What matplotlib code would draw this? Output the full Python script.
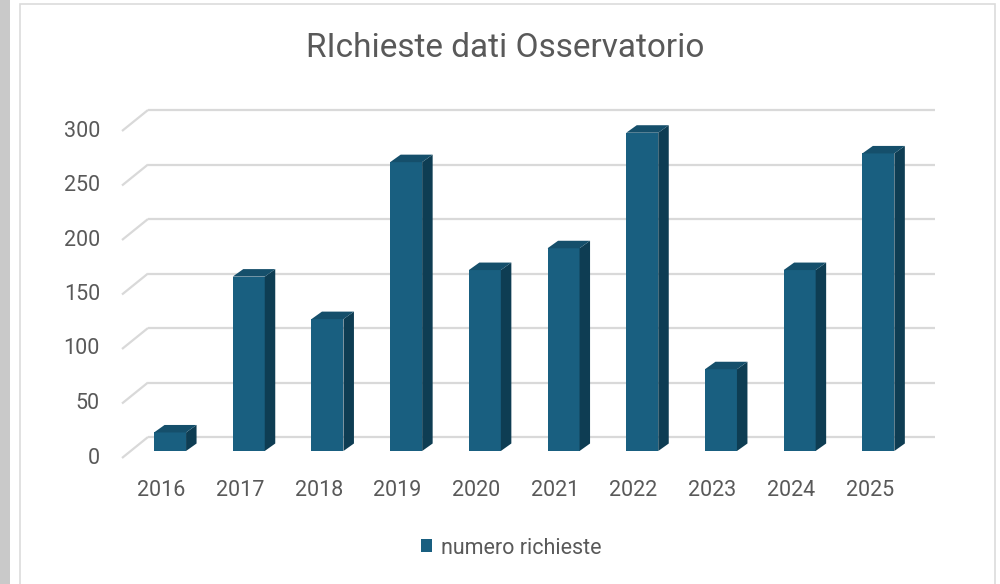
import matplotlib
matplotlib.use("Agg")
import matplotlib.pyplot as plt
from matplotlib.patches import Polygon, Rectangle, Patch

years = ["2016", "2017", "2018", "2019", "2020", "2021", "2022", "2023", "2024", "2025"]
richieste = [17, 160, 121, 265, 166, 186, 292, 75, 166, 273]
yticks = [0, 50, 100, 150, 200, 250, 300]
title = "RIchieste dati Osservatorio"
series_name = "numero richieste"

FONT = ["Roboto", "DejaVu Sans"]
plt.rcParams["font.family"] = FONT

W, H = 1000, 584
fig = plt.figure(figsize=(W / 100, H / 100), dpi=100)
fig.patch.set_facecolor("white")

# frame decorations
fig.patches.append(Rectangle((0, 0), 10 / W, 1, transform=fig.transFigure,
                             facecolor="#c9c9c9", edgecolor="none", zorder=0))
fig.patches.append(Rectangle((19.5 / W, -0.01), (995 - 19.5) / W, (H - 3.5) / H + 0.01,
                             transform=fig.transFigure, facecolor="none",
                             edgecolor="#dcdcdc", linewidth=1.2, zorder=0))

# axes in the bar plane
ax_left, ax_w = 130.7, 787.0
ax_bottom_px, ax_h = 451.0, 327.0
ax = fig.add_axes([ax_left / W, (H - ax_bottom_px) / H, ax_w / W, ax_h / H])
ax.set_xlim(-0.5, len(years) - 0.5)
ax.set_ylim(0, 300)
ax.axis("off")

px_x = ax_w / len(years)      # px per category
px_y = ax_h / 300.0           # px per unit

# plane offsets (pixels) relative to the bar front plane
front_dx, front_dy = -8.7, -7.0
back_dx, back_dy = 17.3, 14.0
bar_dx, bar_dy = 10.5, 7.5

fx, fy = front_dx / px_x, front_dy / px_y
bx, by = back_dx / px_x, back_dy / px_y
dx, dy = bar_dx / px_x, bar_dy / px_y

grid_col = "#d9d9d9"
x0, x1 = -0.5, len(years) - 0.5
for v in yticks:
    ax.plot([x0 + bx, x1 + bx], [v + by, v + by], color=grid_col, lw=1.6,
            clip_on=False, zorder=1, solid_capstyle="butt")
    ax.plot([x0 + fx, x0 + bx], [v + fy, v + by], color=grid_col, lw=1.6,
            clip_on=False, zorder=1, solid_capstyle="butt")
    ax.annotate(str(v), xy=(x0 + fx, v + fy), xytext=(-22, 0),
                textcoords="offset pixels", ha="right", va="center",
                fontsize=15.5, color="#595959", annotation_clip=False)

front_col = "#195f80"
side_col = "#0e3d53"
top_col = "#154f6b"
bw = 32.0 / px_x

bars = ax.bar(range(len(years)), richieste, width=bw, color=front_col,
              zorder=3, clip_on=False)
for i, v in enumerate(richieste):
    xl, xr = i - bw / 2, i + bw / 2
    side = Polygon([(xr, 0), (xr + dx, dy), (xr + dx, v + dy), (xr, v)],
                   closed=True, facecolor=side_col, edgecolor="none",
                   zorder=3, clip_on=False)
    top = Polygon([(xl, v), (xr, v), (xr + dx, v + dy), (xl + dx, v + dy)],
                  closed=True, facecolor=top_col, edgecolor="none",
                  zorder=3, clip_on=False)
    ax.add_patch(side)
    ax.add_patch(top)
    ax.annotate(years[i], xy=(i + fx, fy), xytext=(0, -32),
                textcoords="offset pixels", ha="center", va="center",
                fontsize=15.5, color="#595959", annotation_clip=False)

fig.text(0.505, 1 - 48 / H, title, ha="center", va="center",
         fontsize=24, color="#595959")

fig.legend(handles=[Patch(facecolor=front_col, edgecolor="none", label=series_name)],
           loc="center", bbox_to_anchor=(0.511, 1 - 548 / H), frameon=False,
           fontsize=15.5, handlelength=0.55, handleheight=0.55, handletextpad=0.4,
           labelcolor="#595959")

fig.savefig("out.png", dpi=100, facecolor="white")
